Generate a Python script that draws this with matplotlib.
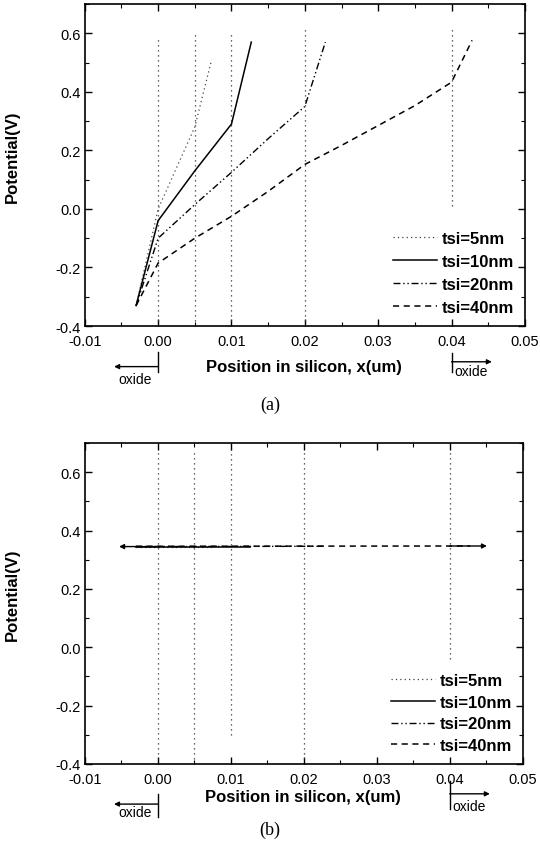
import matplotlib.pyplot as plt
from matplotlib.ticker import MultipleLocator

plt.rcParams['font.family'] = ['Liberation Sans', 'DejaVu Sans']

# --- data ---
labels = ['tsi=5nm', 'tsi=10nm', 'tsi=20nm', 'tsi=40nm']

# (a) potential profiles
x_5 = [-0.003, 0.0, 0.005, 0.0073]
v_5 = [-0.33, 0.0, 0.28, 0.51]
x_10 = [-0.003, 0.0, 0.005, 0.01, 0.0127]
v_10 = [-0.33, -0.04, 0.13, 0.29, 0.57]
x_20 = [-0.003, 0.0, 0.005, 0.01, 0.015, 0.02, 0.0228]
v_20 = [-0.33, -0.10, 0.015, 0.125, 0.24, 0.35, 0.57]
x_40 = [-0.003, 0.0, 0.005, 0.01, 0.015, 0.02, 0.025, 0.03, 0.035, 0.04, 0.0428]
v_40 = [-0.33, -0.185, -0.10, -0.025, 0.06, 0.152, 0.217, 0.285, 0.353, 0.433, 0.576]

# (b) flat profiles
xb_5 = [-0.003, 0.0073]
vb_5 = [0.345, 0.345]
xb_10 = [-0.003, 0.0127]
vb_10 = [0.345, 0.345]
xb_20 = [-0.003, 0.0228]
vb_20 = [0.345, 0.346]
xb_40 = [-0.003, 0.0428]
vb_40 = [0.346, 0.347]

# silicon film boundaries (dotted verticals)
bounds = [0.0, 0.005, 0.01, 0.02, 0.04]
tops_a = [0.585, 0.607, 0.597, 0.625, 0.614]
bots_a = [-0.4, -0.4, -0.4, -0.4, 0.01]
tops_b = [0.68, 0.68, 0.68, 0.67, 0.67]
bots_b = [-0.4, -0.4, -0.3, -0.4, -0.04]

styles = [dict(ls=(0, (1, 2.5)), lw=0.9, color='#444444'),
          dict(ls='-', lw=1.1, color='black'),
          dict(ls=(0, (5, 2, 1, 2, 1, 2)), lw=1.0, color='black'),
          dict(ls=(0, (4, 3)), lw=1.1, color='black')]

fig = plt.figure(figsize=(5.4, 8.53), dpi=100)
ax_a = fig.add_axes([0.157, 0.6166, 0.815, 0.3775])
ax_b = fig.add_axes([0.157, 0.1032, 0.811, 0.3763])


def setup(ax):
    ax.set_xlim(-0.01, 0.05)
    ax.set_ylim(-0.4, 0.7)
    ax.xaxis.set_major_locator(MultipleLocator(0.01))
    ax.xaxis.set_minor_locator(MultipleLocator(0.005))
    ax.yaxis.set_major_locator(MultipleLocator(0.2))
    ax.yaxis.set_minor_locator(MultipleLocator(0.1))
    ax.set_xticks([-0.01, 0.0, 0.01, 0.02, 0.03, 0.04, 0.05])
    ax.set_xticklabels(['-0.01', '0.00', '0.01', '0.02', '0.03', '0.04', '0.05'])
    ax.set_yticks([-0.4, -0.2, 0.0, 0.2, 0.4, 0.6])
    ax.set_yticklabels(['-0.4', '-0.2', '0.0', '0.2', '0.4', '0.6'])
    ax.tick_params(which='both', direction='in', top=True, right=True, labelsize=10.5)
    ax.tick_params(which='major', length=5, width=1)
    ax.tick_params(which='minor', length=3, width=0.8)
    ax.tick_params(axis='x', which='major', pad=6)
    ax.tick_params(axis='y', which='major', pad=3)
    for s in ax.spines.values():
        s.set_linewidth(1.2)
    ax.set_ylabel('Potential(V)', fontsize=12, fontweight='bold')
    ax.yaxis.set_label_coords(-0.148, 0.53)
    ax.set_xlabel('Position in silicon, x(um)', fontsize=12, fontweight='bold')
    ax.xaxis.label.set_va('center')


def oxide_marks(ax, left, right):
    tr = ax.get_xaxis_transform()
    # left: bar at x=0, arrow pointing into the oxide
    ax.plot([0.0, 0.0], [left[0], left[1]], color='black', lw=1, transform=tr, clip_on=False)
    ax.annotate('', xy=(-0.006, left[2]), xytext=(0.0, left[2]),
                xycoords=tr, textcoords=tr,
                arrowprops=dict(arrowstyle='-|>', lw=1, color='black',
                                mutation_scale=7, shrinkA=0, shrinkB=0))
    ax.text(-0.0031, left[3], 'oxide', transform=tr, ha='center', va='center', fontsize=10)
    # right: bar at x=0.04
    ax.plot([0.04, 0.04], [right[0], right[1]], color='black', lw=1, transform=tr, clip_on=False)
    ax.annotate('', xy=(0.0455, right[2]), xytext=(0.04, right[2]),
                xycoords=tr, textcoords=tr,
                arrowprops=dict(arrowstyle='-|>', lw=1, color='black',
                                mutation_scale=7, shrinkA=0, shrinkB=0))
    ax.text(0.0427, right[3], 'oxide', transform=tr, ha='center', va='center', fontsize=10)


# --- (a) ---
setup(ax_a)
for b, lo, hi in zip(bounds, bots_a, tops_a):
    ax_a.plot([b, b], [lo, hi], ls=(0, (1, 3)), lw=0.9, color='#333333')
series_a = [(x_5, v_5), (x_10, v_10), (x_20, v_20), (x_40, v_40)]
for (xs, vs), st, lab in zip(series_a, styles, labels):
    ax_a.plot(xs, vs, label=lab, **st)
ax_a.xaxis.set_label_coords(0.498, -0.127)
oxide_marks(ax_a, (-0.08, -0.142, -0.126, -0.165), (-0.084, -0.142, -0.111, -0.139))
ax_a.legend(loc='lower right', frameon=False, prop=dict(weight='bold', size=12),
            handlelength=2.6, handletextpad=0.3, labelspacing=0.48,
            borderaxespad=0.25)
fig.text(0.5, 1 - 405 / 853, '(a)', family='Liberation Serif', fontsize=13,
         ha='center', va='center')

# --- (b) ---
setup(ax_b)
for b, lo, hi in zip(bounds, bots_b, tops_b):
    ax_b.plot([b, b], [lo, hi], ls=(0, (1, 3)), lw=0.9, color='#333333')
series_b = [(xb_5, vb_5), (xb_10, vb_10), (xb_20, vb_20), (xb_40, vb_40)]
for (xs, vs), st, lab in zip(series_b, styles, labels):
    ax_b.plot(xs, vs, label=lab, **st)
# arrows leaving the silicon film at the flat level
ax_b.annotate('', xy=(-0.0053, vb_10[0]), xytext=(0.0, vb_10[0]),
              arrowprops=dict(arrowstyle='-|>', lw=1, color='black',
                              mutation_scale=7, shrinkA=0, shrinkB=0))
ax_b.annotate('', xy=(0.0451, vb_40[-1]), xytext=(0.04, vb_40[-1]),
              arrowprops=dict(arrowstyle='-|>', lw=1, color='black',
                              mutation_scale=7, shrinkA=0, shrinkB=0))
ax_b.xaxis.set_label_coords(0.498, -0.10)
oxide_marks(ax_b, (-0.093, -0.165, -0.125, -0.15), (-0.052, -0.14, -0.093, -0.13))
ax_b.legend(loc='lower right', frameon=False, prop=dict(weight='bold', size=12),
            handlelength=2.6, handletextpad=0.3, labelspacing=0.4,
            borderaxespad=0.25)
fig.text(0.5, 1 - 830 / 853, '(b)', family='Liberation Serif', fontsize=13,
         ha='center', va='center')

fig.savefig('out.png', dpi=100)
